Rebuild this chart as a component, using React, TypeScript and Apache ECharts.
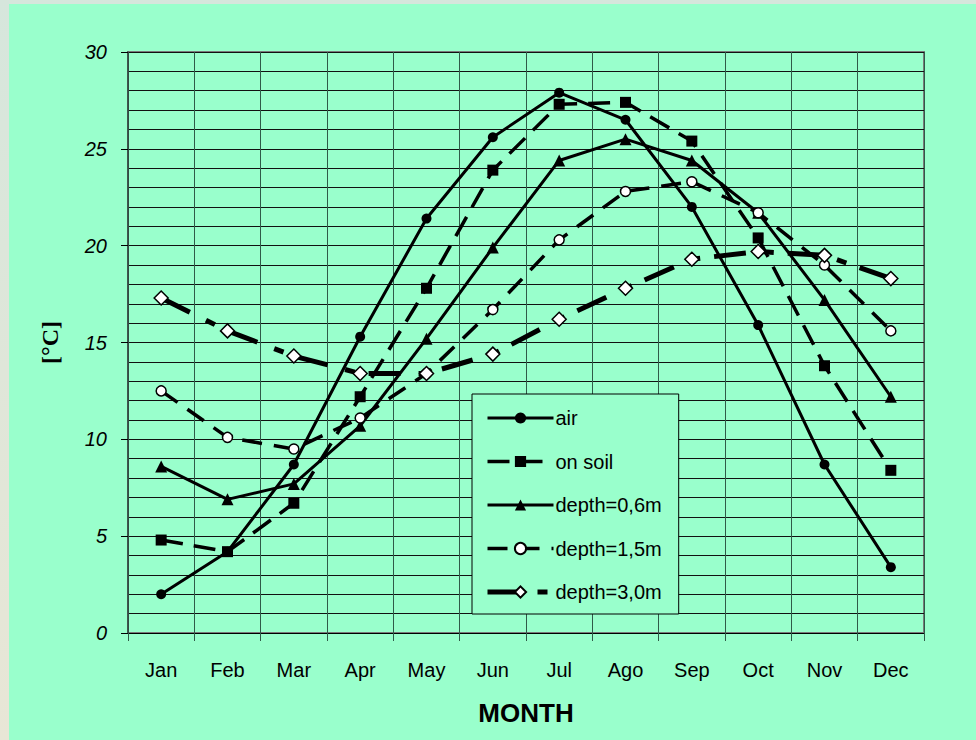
import React, { useEffect, useRef } from "react";
import * as echarts from "echarts";

const months = ["Jan", "Feb", "Mar", "Apr", "May", "Jun", "Jul", "Ago", "Sep", "Oct", "Nov", "Dec"];
const seriesNames = ["air", "on soil", "depth=0,6m", "depth=1,5m", "depth=3,0m"];
const air = [2.0, 4.2, 8.7, 15.3, 21.4, 25.6, 27.9, 26.5, 22.0, 15.9, 8.7, 3.4];
const onSoil = [4.8, 4.2, 6.7, 12.2, 17.8, 23.9, 27.3, 27.4, 25.4, 20.4, 13.8, 8.4];
const depth06 = [8.6, 6.9, 7.7, 10.7, 15.2, 19.9, 24.4, 25.5, 24.4, 21.7, 17.2, 12.2];
const depth15 = [12.5, 10.1, 9.5, 11.1, 13.4, 16.7, 20.3, 22.8, 23.3, 21.7, 19.0, 15.6];
const depth30 = [17.3, 15.6, 14.3, 13.4, 13.4, 14.4, 16.2, 17.8, 19.3, 19.7, 19.5, 18.3];
const yTicks = { min: 0, max: 30, interval: 5 };

const SANS = "Arial, 'Liberation Sans', sans-serif";
const SERIF = "'Times New Roman', 'Liberation Serif', serif";

const legendWidths = [3, 3.5, 3, 3.5, 5];

export default function App() {
  const ref = useRef<HTMLDivElement>(null);
  useEffect(() => {
    const chart = echarts.init(ref.current!, null, { renderer: "svg" });
    const base = (name: string, data: number[]) => ({
      name,
      type: "line",
      data,
      z: 3,
    });
    chart.setOption({
      animation: false,
      backgroundColor: "transparent",
      grid: { left: 128, top: 52, right: 52, bottom: 107, show: true, borderColor: "#7a7a7a", borderWidth: 2, backgroundColor: "transparent" },
      legend: {
        data: seriesNames.map((n, i) => ({ name: n, lineStyle: { width: legendWidths[i] } })),
        orient: "vertical",
        left: 472,
        top: 394,
        itemWidth: 66,
        itemHeight: 14,
        itemGap: 23.5,
        padding: [14, 17, 12, 13],
        borderColor: "#000",
        borderWidth: 1,
        backgroundColor: "#99FFCC",
        textStyle: { color: "#000", fontSize: 20, lineHeight: 20, fontFamily: SANS, padding: [0, 0, 0, -3] },
      },
      xAxis: {
        type: "category",
        data: months,
        boundaryGap: true,
        name: "MONTH",
        nameLocation: "middle",
        nameGap: 67,
        nameTextStyle: { color: "#000", fontSize: 26, fontWeight: "bold", fontFamily: SANS },
        axisLine: { lineStyle: { color: "#000", width: 1 } },
        axisTick: { show: true, interval: 0, alignWithLabel: false, length: 8, inside: false, lineStyle: { color: "#2f5a48" } },
        axisLabel: { color: "#000", fontSize: 20, fontFamily: SANS, margin: 27, interval: 0 },
        splitLine: { show: true, interval: 0, lineStyle: { color: "#2f5a48", width: 1 } },
      },
      yAxis: {
        type: "value",
        min: yTicks.min,
        max: yTicks.max,
        interval: yTicks.interval,
        name: "[°C]",
        nameLocation: "middle",
        nameRotate: 90,
        nameGap: 66,
        nameTextStyle: { color: "#000", fontSize: 24, fontWeight: "bold", fontFamily: SERIF },
        axisLine: { show: true, lineStyle: { color: "#2f4a40", width: 1.5 } },
        axisTick: { show: true, length: 7, inside: false, lineStyle: { color: "#000" } },
        axisLabel: { color: "#000", fontSize: 20, fontStyle: "italic", fontFamily: SANS, margin: 21 },
        splitLine: { show: true, lineStyle: { color: "#111", width: 1 } },
        minorTick: { show: false, splitNumber: 5 },
        minorSplitLine: { show: true, lineStyle: { color: "#111", width: 1 } },
      },
      series: [
        {
          ...base(seriesNames[0], air),
          symbol: "circle",
          symbolSize: 10,
          itemStyle: { color: "#000" },
          lineStyle: { color: "#000", width: 3, type: "solid" },
        },
        {
          ...base(seriesNames[1], onSoil),
          symbol: "rect",
          symbolSize: 11,
          itemStyle: { color: "#000" },
          lineStyle: { color: "#000", width: 3.5, type: [22, 11] },
        },
        {
          ...base(seriesNames[2], depth06),
          symbol: "triangle",
          symbolSize: 12,
          itemStyle: { color: "#000" },
          lineStyle: { color: "#000", width: 3, type: "solid" },
        },
        {
          ...base(seriesNames[3], depth15),
          symbol: "circle",
          symbolSize: 10,
          itemStyle: { color: "#ffffff", borderColor: "#000", borderWidth: 1.5 },
          lineStyle: { color: "#000", width: 3.5, type: [20, 12] },
        },
        {
          ...base(seriesNames[4], depth30),
          symbol: "diamond",
          symbolSize: 14,
          itemStyle: { color: "#ffffff", borderColor: "#000", borderWidth: 1.5 },
          lineStyle: { color: "#000", width: 5, type: [32, 18, 10, 14] },
        },
      ],
    });
    return () => chart.dispose();
  }, []);
  return (
    <div style={{ position: "fixed", left: 0, top: 0, width: 976, height: 740, background: "linear-gradient(180deg, #d6e6dc 0%, #e8e6d6 100%)", overflow: "hidden" }}>
      <div style={{ position: "absolute", left: 9, top: 4, right: 0, bottom: 0, background: "#99FFCC" }} />
      <div ref={ref} style={{ position: "absolute", left: 0, top: 0, width: 976, height: 740 }} />
    </div>
  );
}
